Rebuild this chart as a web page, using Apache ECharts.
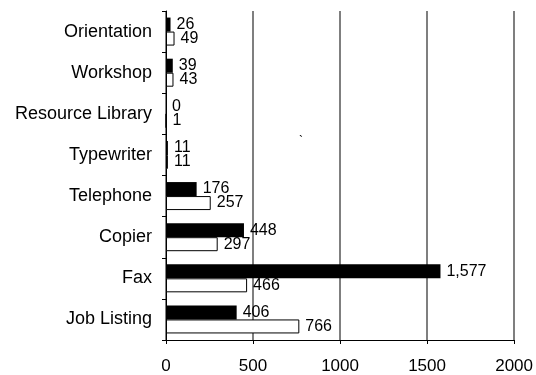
<!DOCTYPE html>
<html>
<head>
<meta charset="utf-8">
<script src="https://cdn.jsdelivr.net/npm/echarts@6/dist/echarts.min.js"></script>
<style>html,body{margin:0;padding:0;background:#fff}#c{width:536px;height:375px}</style>
</head>
<body>
<div id="c"></div>
<script>
const categories = ['Orientation', 'Workshop', 'Resource Library', 'Typewriter', 'Telephone', 'Copier', 'Fax', 'Job Listing'];
const blackValues = [26, 39, 0, 11, 176, 448, 1577, 406];
const whiteValues = [49, 43, 1, 11, 257, 297, 466, 766];
const xTicks = [0, 500, 1000, 1500, 2000];

const fmt = p => Number(p.value).toLocaleString('en-US');
const FONT = '"Liberation Sans", Arial, sans-serif';

const chart = echarts.init(document.getElementById('c'), null, {renderer: 'canvas'});
chart.setOption({
  animation: false,
  backgroundColor: '#fff',
  grid: {left: 166, right: 20, top: 11, bottom: 31, containLabel: false},
  xAxis: {
    type: 'value',
    min: xTicks[0], max: xTicks[xTicks.length - 1], interval: 500,
    axisLine: {show: true, lineStyle: {color: '#000', width: 1}},
    axisTick: {show: true, length: 4, lineStyle: {color: '#000'}},
    splitLine: {show: true, lineStyle: {color: '#555', width: 1.5}},
    axisLabel: {color: '#000', fontSize: 17, fontFamily: FONT, margin: 18, formatter: v => String(v)}
  },
  yAxis: {
    type: 'category',
    data: categories,
    inverse: true,
    axisLine: {show: true, onZero: false, lineStyle: {color: '#000', width: 1}},
    axisTick: {show: true, length: 4, lineStyle: {color: '#000'}},
    axisLabel: {color: '#000', fontSize: 18, fontFamily: FONT, margin: 14}
  },
  series: [
    {
      type: 'bar', data: blackValues, barWidth: 14, barGap: '0%',
      itemStyle: {color: '#000'},
      label: {show: true, position: 'right', distance: 6, color: '#000', fontSize: 16, fontFamily: FONT, formatter: fmt}
    },
    {
      type: 'bar', data: whiteValues, barWidth: 14, barGap: '0%',
      itemStyle: {color: '#fff', borderColor: '#000', borderWidth: 1},
      label: {show: true, position: 'right', distance: 6, color: '#000', fontSize: 16, fontFamily: FONT, formatter: fmt}
    }
  ],
  graphic: [{type: 'text', left: 299, top: 136, style: {text: '`', fontSize: 12, fill: '#000', font: '12px ' + FONT}}]
});
</script>
</body>
</html>
